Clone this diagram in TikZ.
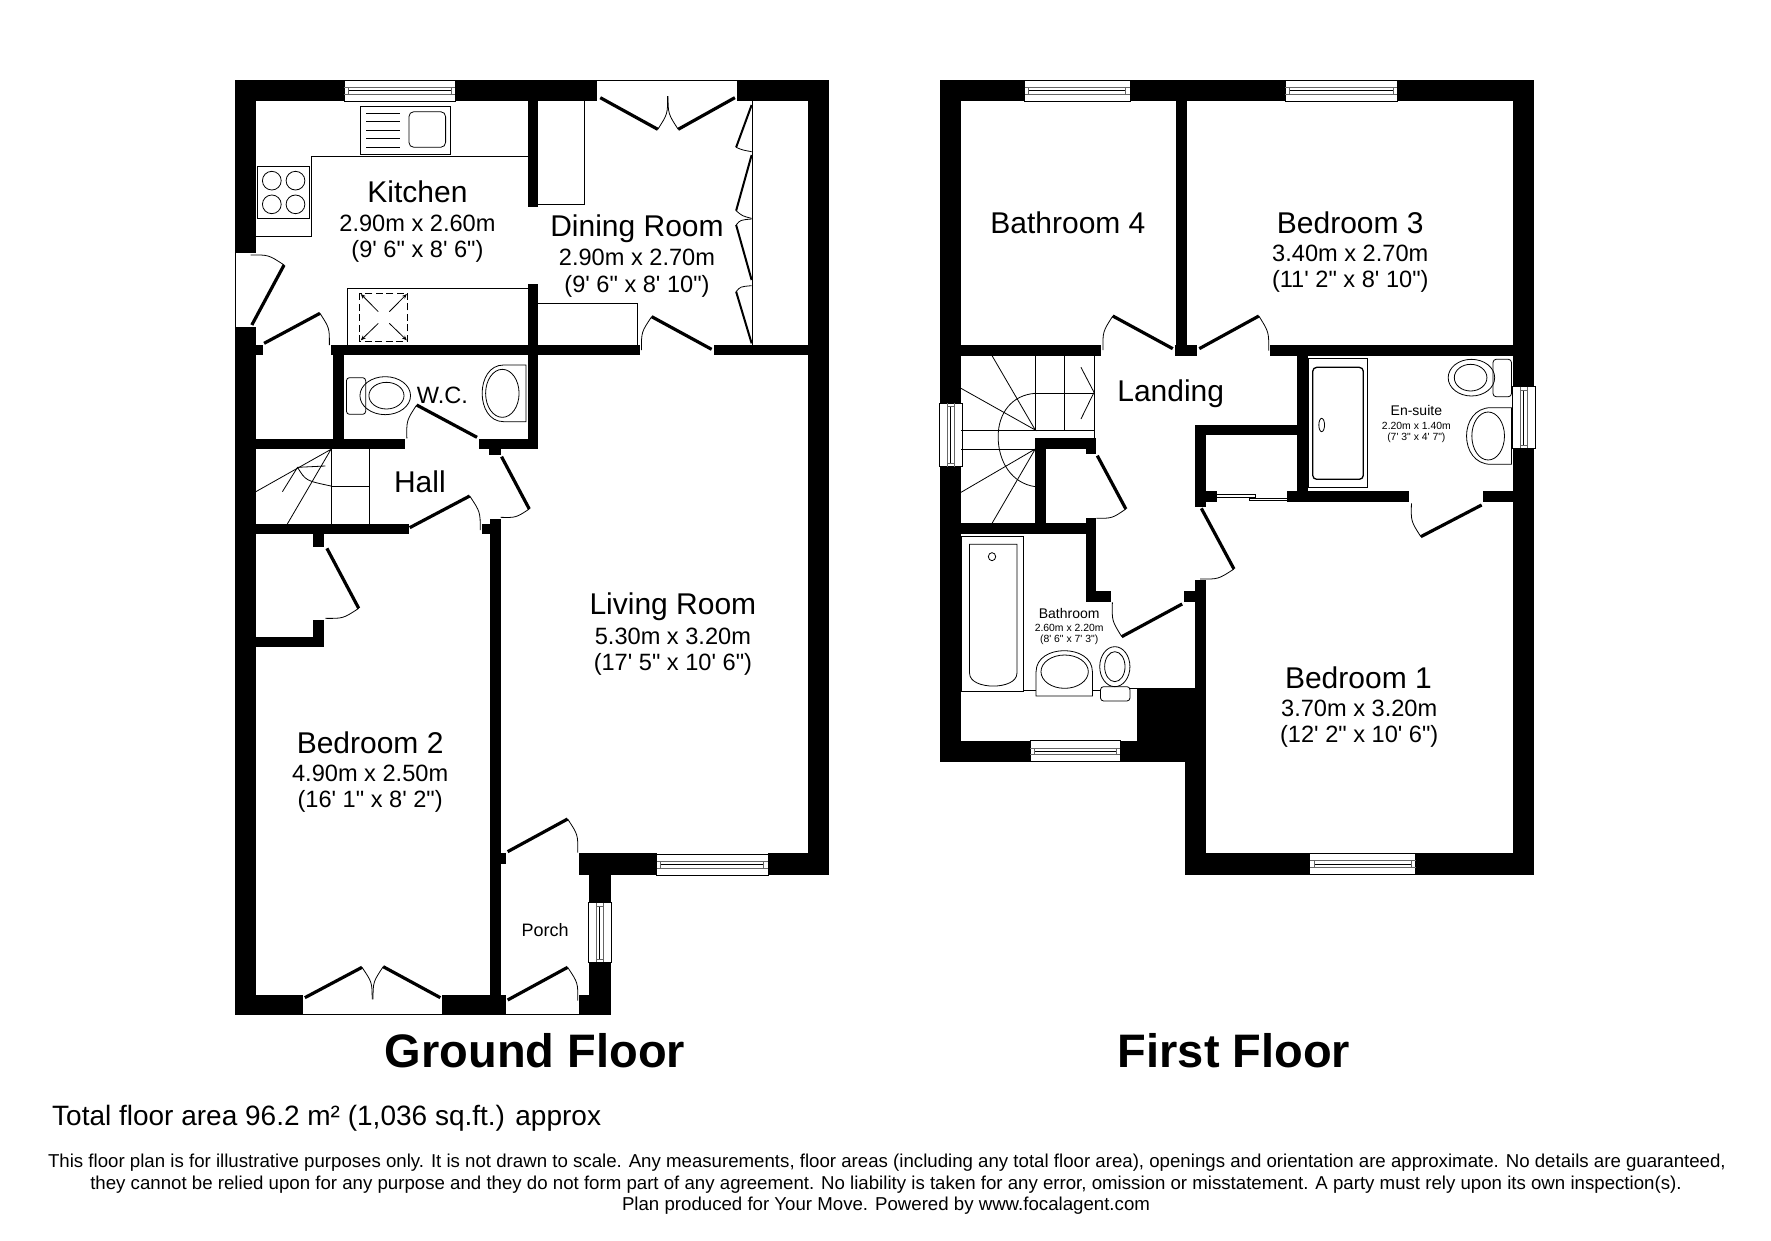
\documentclass[tikz,border=0pt]{standalone}
\usepackage{fontspec}
\setmainfont{Liberation Sans}[Ligatures=TeXOff]
\usetikzlibrary{arrows.meta}
\newcommand{\fs}[1]{\fontsize{#1}{#1}\selectfont}
\newcommand{\wall}[4]{\fill[black] (#1,#2) rectangle (#3,#4);}
% door: hinge, tip, end of the swing
\newcommand{\door}[6]{\draw[leaf] (#1,#2) -- (#3,#4);
  \draw[thin line] (#3,#4) .. controls ({#1+1.08*((#3+#5)/2-#1)},{#2+1.08*((#4+#6)/2-#2)}) .. (#5,#6);}
\newcommand{\hwin}[3]{% x1 x2 ytop
  \draw[thin line,fill=white] (#1,#3) rectangle (#2,{#3+63});
  \draw[pane] (#1,{#3+22}) -- (#2,{#3+22}) (#1,{#3+42}) -- (#2,{#3+42});
  \draw[thin line] ({#1+10},{#3+32}) -- ({#2-10},{#3+32});
  \draw[pane] ({#1+10},{#3+22}) -- ({#1+10},{#3+42}) ({#2-10},{#3+22}) -- ({#2-10},{#3+42});}
\newcommand{\vwin}[3]{% xleft y1 y2
  \draw[thin line,fill=white] (#1,#2) rectangle ({#1+55},#3);
  \draw[pane] ({#1+18},#2) -- ({#1+18},#3) ({#1+36},#2) -- ({#1+36},#3);
  \draw[thin line] ({#1+27},{#2+10}) -- ({#1+27},{#3-10});
  \draw[pane] ({#1+18},{#2+10}) -- ({#1+36},{#2+10}) ({#1+18},{#3-10}) -- ({#1+36},{#3-10});}
\tikzset{
  leaf/.style={line width=3.2pt,black,line cap=butt},
  thin line/.style={line width=0.8pt,black},
  heavy line/.style={line width=1.3pt,black},
  pane/.style={line width=0.8pt,black!60},
  fold/.style={line width=2pt,black},
  room/.style={inner sep=0pt,font=\fs{30}},
  dims/.style={inner sep=0pt,font=\fs{23.6}},
  roomsm/.style={inner sep=0pt,font=\fs{14}},
  dimsm/.style={inner sep=0pt,font=\fs{10.4}},
  porchtext/.style={inner sep=0pt,font=\fs{18}},
  floortitle/.style={inner sep=0pt,font=\fs{47}\bfseries},
  notice/.style={inner sep=0pt,font=\fs{18.66}},
}
\begin{document}
\begin{tikzpicture}[x=1pt,y=-1pt]
\useasboundingbox (0,0) rectangle (1771,1240);
\fill[white] (0,0) rectangle (1771,1240);
%% GROUND FLOOR
\begin{scope}[shift={(220pt,-60pt)},x=0.408pt,y=-0.33333pt]
 % walls
 \wall{36}{60}{305}{122}\wall{577}{60}{925}{122}\wall{1268}{60}{1493}{122}
 \wall{36}{60}{88}{578}\wall{36}{800}{88}{2865}\wall{1442}{60}{1493}{2445}
 \wall{880}{2380}{1070}{2445}\wall{1343}{2380}{1493}{2445}
 \wall{905}{2380}{958}{2528}\wall{905}{2707}{958}{2865}\wall{880}{2805}{958}{2865}
 \wall{880}{2380}{905}{2412}
 \wall{36}{2805}{203}{2865}\wall{545}{2805}{700}{2865}
 \wall{662}{1378}{688}{2805}\wall{642}{1392}{662}{1422}\wall{688}{2380}{700}{2412}
 \wall{88}{1392}{462}{1422}\wall{228}{1422}{255}{1460}
 \wall{88}{1730}{255}{1762}\wall{228}{1680}{255}{1730}
 \wall{88}{1137}{453}{1168}\wall{635}{1137}{780}{1168}\wall{660}{1168}{688}{1185}
 \wall{755}{855}{780}{1168}\wall{278}{885}{305}{1137}
 \wall{272}{855}{1030}{885}\wall{1210}{855}{1442}{885}\wall{88}{855}{105}{885}
 \wall{755}{122}{780}{442}\wall{755}{672}{780}{855}
 % openings
 \draw[thin line] (925,62) -- (1268,62);
 \draw[thin line] (38,578) -- (38,800);
 \draw[thin line] (203,2864) -- (545,2864);
 \draw[thin line] (700,2864) -- (880,2864);
 % windows
 \hwin{305}{577}{60}
 \hwin{1070}{1343}{2382}
 \vwin{904}{2528}{2707}
 % doors
 \door{932}{113}{1073}{208}{1097}{108}
 \door{1262}{113}{1123}{208}{1098}{108}
 \door{1205}{868}{1058}{770}{1033}{870}
 \door{78}{795}{157}{615}{75}{585}
 \door{108}{850}{245}{760}{268}{855}
 \door{630}{1132}{482}{1035}{458}{1135}
 \door{690}{1190}{758}{1347}{688}{1372}
 \door{465}{1403}{612}{1308}{638}{1410}
 \door{262}{1465}{340}{1645}{258}{1675}
 \door{705}{2375}{852}{2277}{877}{2378}
 \door{705}{2820}{852}{2722}{877}{2822}
 \door{208}{2813}{348}{2722}{373}{2818}
 \door{540}{2813}{400}{2720}{375}{2818}
 % wardrobe
 \draw[thin line] (1305,122) -- (1305,855);
 \draw[fold] (1303,135) -- (1265,262) (1303,285) -- (1265,452) (1265,495) -- (1303,660) (1265,695) -- (1303,850);
 \draw[thin line] (1265,262) .. controls (1280,270) .. (1303,275);
 \draw[thin line] (1265,452) .. controls (1280,468) .. (1303,475);
 \draw[thin line] (1265,495) .. controls (1275,480) .. (1303,477);
 \draw[thin line] (1265,695) .. controls (1275,680) .. (1303,677);
 % kitchen units
 \draw[thin line] (88,528) -- (224,528) -- (224,290) -- (755,290);
 \draw[thin line] (313,855) -- (313,686) -- (755,686);
 \draw[thin line] (780,432) -- (892,432) -- (892,122);
 \draw[thin line] (780,730) -- (1022,730) -- (1022,855);
 % sink
 \draw[thin line] (345,140) rectangle (565,283);
 \foreach \yy in {160,185,210,235,262} \draw[thin line] (358,\yy) -- (440,\yy);
 \draw[thin line,rounded corners=5pt] (463,155) rectangle (553,262);
 % hob
 \draw[thin line] (92,320) rectangle (218,475);
 \foreach \cx/\cy in {127/362,185/362,127/433,185/433} \draw[thin line] (\cx,\cy) ellipse [x radius=23,y radius=28];
 % dashed square
 \draw[line width=1pt,black,dash pattern=on 7pt off 3.5pt] (343,700) rectangle (460,843);
 \draw[thin line,-{Stealth[length=5pt,width=4pt]}] (388,755) -- (345,702);
 \draw[thin line,-{Stealth[length=5pt,width=4pt]}] (415,755) -- (458,702);
 \draw[thin line,-{Stealth[length=5pt,width=4pt]}] (388,790) -- (345,841);
 \draw[thin line,-{Stealth[length=5pt,width=4pt]}] (415,790) -- (458,841);
 % WC
 \draw[thin line,rounded corners=3pt] (310,953) rectangle (357,1063);
 \draw[thin line] (405,1007) ellipse [x radius=62,y radius=57];
 \draw[thin line] (408,1007) ellipse [x radius=43,y radius=40];
 \draw[thin line] (750,915) -- (695,915) .. controls (625,915) and (625,1085) .. (695,1085) -- (750,1085) -- cycle;
 \draw[thin line] (692,1000) ellipse [x radius=41,y radius=72];
 % stairs
 \draw[thin line] (88,1295) -- (272,1168) -- (165,1392);
 \draw[thin line] (272,1168) -- (272,1392) (367,1168) -- (367,1392) (272,1278) -- (367,1278);
 \draw[thin line] (258,1218) -- (190,1222) -- (153,1295);
 \draw[thin line] (190,1222) .. controls (210,1262) .. (272,1278);
 % labels
 \node[room] (kitchen) at (484,395) {Kitchen};
 \node[dims] (kitchenm) at (484,490) {2.90m x 2.60m};
 \node[dims] (kitchenf) at (484,573) {(9' 6" x 8' 6")};
 \node[room] (dining) at (1022,505) {Dining Room};
 \node[dims] (diningm) at (1022,592) {2.90m x 2.70m};
 \node[dims] (diningf) at (1022,678) {(9' 6" x 8' 10")};
 \node[dims] (wc) at (545,1005) {W.C.};
 \node[room] (hall) at (490,1265) {Hall};
 \node[room] (living) at (1110,1641) {Living Room};
 \node[dims] (livingm) at (1110,1728) {5.30m x 3.20m};
 \node[dims] (livingf) at (1110,1812) {(17' 5" x 10' 6")};
 \node[room] (bed2) at (368,2048) {Bedroom 2};
 \node[dims] (bed2m) at (368,2140) {4.90m x 2.50m};
 \node[dims] (bed2f) at (368,2225) {(16' 1" x 8' 2")};
 \node[porchtext] (porch) at (797,2610) {Porch};
\end{scope}
%% FIRST FLOOR
\begin{scope}[shift={(930pt,-60pt)},x=0.408pt,y=-0.33333pt]
 \wall{24}{60}{232}{122}\wall{490}{60}{870}{122}\wall{1145}{60}{1480}{122}
 \wall{24}{60}{76}{1030}\wall{24}{1220}{76}{2105}
 \wall{1430}{60}{1480}{980}\wall{1430}{1165}{1480}{2444}
 \wall{625}{2380}{931}{2444}\wall{1190}{2380}{1480}{2444}
 \wall{507}{1885}{677}{2105}\wall{625}{2105}{677}{2444}
 \wall{650}{1095}{677}{1340}\wall{650}{1560}{677}{1885}\wall{622}{1592}{650}{1625}
 \wall{24}{2042}{245}{2105}\wall{466}{2042}{507}{2105}
 \wall{382}{1375}{408}{1625}\wall{382}{1592}{443}{1625}
 \wall{76}{1390}{408}{1423}
 \wall{258}{1135}{284}{1392}\wall{258}{1135}{408}{1167}\wall{382}{1167}{408}{1183}
 \wall{76}{855}{420}{887}\wall{600}{855}{655}{887}\wall{833}{855}{1430}{887}
 \wall{604}{122}{630}{855}
 \wall{900}{887}{926}{1300}\wall{650}{1095}{900}{1125}
 \wall{875}{1294}{1175}{1326}\wall{1355}{1294}{1430}{1326}\wall{677}{1294}{703}{1326}
 % sliding door
 \draw[thin line] (703,1303) rectangle (797,1311);
 \draw[thin line] (783,1314) rectangle (875,1322);
 % windows
 \hwin{232}{490}{60}
 \hwin{870}{1145}{60}
 \hwin{245}{466}{2042}
 \hwin{931}{1190}{2380}
 \vwin{24}{1030}{1220}
 \vwin{1428}{980}{1165}
 % doors
 \door{595}{866}{448}{768}{424}{870}
 \door{660}{866}{806}{768}{830}{872}
 \door{410}{1187}{480}{1347}{408}{1375}
 \door{665}{1345}{745}{1527}{662}{1557}
 \door{1352}{1335}{1203}{1430}{1180}{1330}
 \door{618}{1632}{470}{1730}{447}{1627}
 % stairs
 \draw[thin line] (258,887) -- (258,1110) (330,887) -- (330,1110) (402,887) -- (402,1135);
 \draw[thin line] (76,1110) -- (402,1110) (258,1000) -- (402,1000) (76,1167) -- (258,1167);
 \draw[thin line] (152,887) -- (258,1110) -- (76,985);
 \draw[thin line] (76,1297) -- (258,1167) -- (152,1390);
 \draw[thin line] (258,1000) .. controls (200,1005) and (167,1060) .. (167,1130) .. controls (167,1205) and (200,1270) .. (258,1280);
 \draw[thin line] (370,922) -- (402,997) -- (370,1077);
 % en-suite fittings
 \draw[heavy line] (928,895) rectangle (1073,1283);
 \draw[heavy line,rounded corners=4pt] (938,922) rectangle (1062,1258);
 \draw[thin line] (960,1095) ellipse [x radius=7,y radius=20];
 \draw[thin line,rounded corners=3pt] (1380,898) rectangle (1425,1010);
 \draw[thin line] (1327,953) ellipse [x radius=57,y radius=55];
 \draw[thin line] (1325,953) ellipse [x radius=40,y radius=40];
 \draw[thin line] (1425,1043) -- (1375,1043) .. controls (1295,1043) and (1295,1213) .. (1375,1213) -- (1425,1213) -- cycle;
 \draw[thin line] (1368,1128) ellipse [x radius=40,y radius=72];
 % bathroom fittings
 \draw[thin line] (78,1430) rectangle (230,1893);
 \draw[thin line] (97,1453) -- (213,1453) -- (213,1840) .. controls (213,1891) and (97,1891) .. (97,1840) -- cycle;
 \draw[thin line] (152,1490) ellipse [x radius=9,y radius=12];
 \draw[thin line] (260,1908) -- (260,1835) .. controls (260,1751) and (398,1751) .. (398,1835) -- (398,1908) -- cycle;
 \draw[thin line] (330,1835) ellipse [x radius=58,y radius=50];
 \draw[thin line,rounded corners=3pt] (418,1880) rectangle (490,1923);
 \draw[thin line] (453,1820) ellipse [x radius=37,y radius=60];
 \draw[thin line] (453,1820) ellipse [x radius=25,y radius=45];
 \draw[thin line] (230,1892) -- (260,1892) (398,1892) -- (418,1892) (490,1885) -- (507,1885);
 % labels
 \node[room] (bath4) at (338,488) {Bathroom 4};
 \node[room] (bed3) at (1030,488) {Bedroom 3};
 \node[dims] (bed3m) at (1030,580) {3.40m x 2.70m};
 \node[dims] (bed3f) at (1030,665) {(11' 2" x 8' 10")};
 \node[room] (landing) at (590,1001) {Landing};
 \node[roomsm] (ensuite) at (1192,1052) {En-suite};
 \node[dimsm] (ensuitem) at (1192,1097) {2.20m x 1.40m};
 \node[dimsm] (ensuitef) at (1192,1134) {(7' 3" x 4' 7")};
 \node[roomsm] (bathroom) at (341,1660) {Bathroom};
 \node[dimsm] (bathroomm) at (341,1703) {2.60m x 2.20m};
 \node[dimsm] (bathroomf) at (341,1740) {(8' 6" x 7' 3")};
 \node[room] (bed1) at (1050,1852) {Bedroom 1};
 \node[dims] (bed1m) at (1052,1945) {3.70m x 3.20m};
 \node[dims] (bed1f) at (1052,2028) {(12' 2" x 10' 6")};
\end{scope}
%% TITLES AND NOTES
\node[floortitle] (ground) at (535,1051) {Ground Floor};
\node[floortitle] (first) at (1234,1051) {First Floor};
\node[inner sep=0pt,anchor=west,font=\fs{28}] (area) at (52,1118) {Total floor area 96.2 m² (1,036 sq.ft.) approx};
\node[notice] (line1) at (887,1163) {This floor plan is for illustrative purposes only. It is not drawn to scale. Any measurements, floor areas (including any total floor area), openings and orientation are approximate. No details are guaranteed,};
\node[notice] (line2) at (886,1185) {they cannot be relied upon for any purpose and they do not form part of any agreement. No liability is taken for any error, omission or misstatement. A party must rely upon its own inspection(s).};
\node[notice] (line3) at (886,1206) {Plan produced for Your Move. Powered by www.focalagent.com};
\end{tikzpicture}
\end{document}
